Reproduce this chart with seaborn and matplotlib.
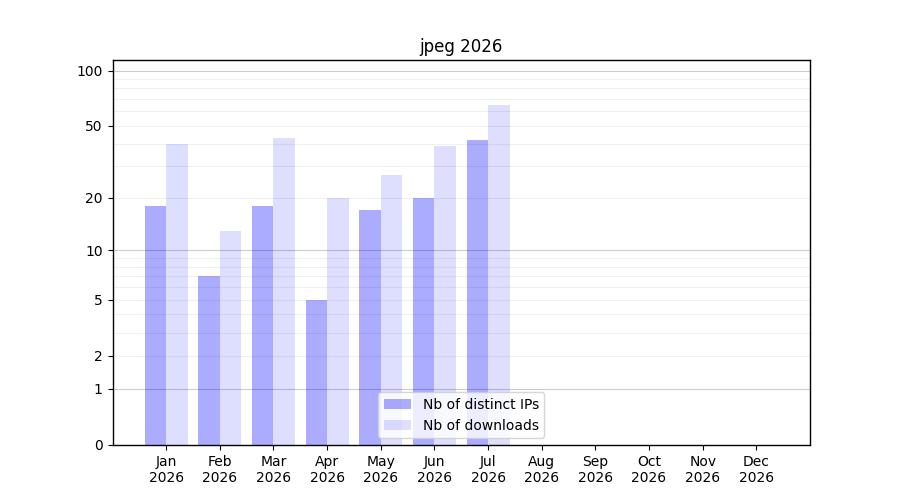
import numpy as np
import pandas as pd
import matplotlib
matplotlib.use('Agg')
import matplotlib.pyplot as plt
import seaborn as sns

months = ['Jan', 'Feb', 'Mar', 'Apr', 'May', 'Jun', 'Jul', 'Aug', 'Sep', 'Oct', 'Nov', 'Dec']
year = 2026
distinct_ips = [18, 7, 18, 5, 17, 20, 42]
downloads = [40, 13, 43, 20, 27, 39, 65]
y_ticks = [0, 1, 2, 5, 10, 20, 50, 100]

n = len(distinct_ips)
df = pd.DataFrame({
    'month': months[:n] * 2,
    'value': distinct_ips + downloads,
    'series': ['Nb of distinct IPs'] * n + ['Nb of downloads'] * n,
})

sns.set_style('white')
plt.rcParams['font.family'] = ['DejaVu Sans']
plt.rcParams['text.color'] = 'black'
plt.rcParams['axes.labelcolor'] = 'black'
plt.rcParams['xtick.color'] = 'black'
plt.rcParams['ytick.color'] = 'black'

fig, ax = plt.subplots(figsize=(9, 5), dpi=100)
sns.barplot(data=df, x='month', y='value', hue='series', order=months,
            palette=['blue', 'blue'], width=0.8, ax=ax, saturation=1, legend=False)

# semi-transparent bars so the grid shows through
bar_colors = [(0, 0, 1, 0.33), (0, 0, 1, 0.13)]
for cont, c in zip(ax.containers, bar_colors):
    for p in cont:
        p.set_facecolor(c)
        p.set_edgecolor('none')

ax.set_yscale('function', functions=(np.log1p, np.expm1))
ax.set_ylim(0, 114)
ax.set_xlim(-1, 12)
ax.set_yticks(y_ticks)
ax.set_yticklabels([str(t) for t in y_ticks])
ax.set_xticks(range(len(months)))
ax.set_xticklabels([f'{m}\n{year}' for m in months])

for v in list(range(2, 10)) + list(range(20, 100, 10)):
    ax.axhline(v, color='#000000', alpha=0.06, linewidth=0.8, zorder=0)
for v in [1, 10, 100]:
    ax.axhline(v, color='#000000', alpha=0.2, linewidth=0.8, zorder=0)

for s in ax.spines.values():
    s.set_visible(True)
    s.set_color('black')
    s.set_linewidth(1)
ax.tick_params(axis='both', which='major', length=3.5, width=0.8, direction='out',
               bottom=True, left=True, labelsize=10, colors='black')

ax.set_xlabel('')
ax.set_ylabel('')
ax.set_title(f'jpeg {year}', fontsize=12, color='black')
ax.legend(ax.containers, ['Nb of distinct IPs', 'Nb of downloads'],
          loc='lower center', fontsize=10)

plt.subplots_adjust(left=0.125, right=0.9, top=0.88, bottom=0.11)
plt.savefig('out.png', dpi=100)
